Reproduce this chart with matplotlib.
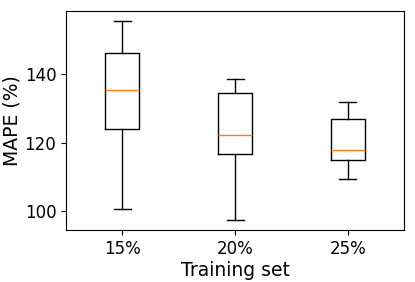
import matplotlib
matplotlib.use('Agg')
import matplotlib.pyplot as plt

# --- Data ---
labels = ['15%', '20%', '25%']
whislo = [100.6, 97.3, 109.5]
q1 = [123.9, 116.8, 114.9]
med = [135.2, 122.3, 117.8]
q3 = [146.0, 134.3, 126.9]
whishi = [155.5, 138.4, 131.7]

stats = []
for i, lab in enumerate(labels):
    stats.append({'label': lab, 'whislo': whislo[i], 'q1': q1[i], 'med': med[i],
                  'q3': q3[i], 'whishi': whishi[i], 'fliers': []})

fig = plt.figure(figsize=(4.15, 2.82), dpi=100)
ax = fig.add_axes([0.159, 0.184, 0.815, 0.777])
ax.bxp(stats, positions=[1, 2, 3], widths=0.3, showfliers=False)

ax.set_xlim(0.5, 3.5)
ax.set_ylim(94.5, 158.3)
ax.set_yticks([100, 120, 140])
ax.tick_params(labelsize=12)
ax.set_xlabel('Training set', fontsize=13.5, labelpad=2)
ax.set_ylabel('MAPE (%)', fontsize=13.5, labelpad=2)

fig.savefig('out.png', dpi=100)
